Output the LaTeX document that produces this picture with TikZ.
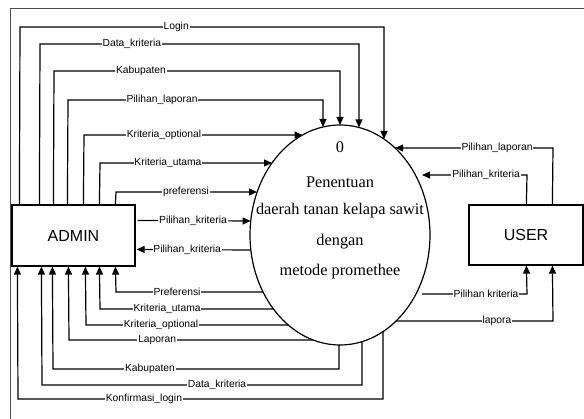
\documentclass[tikz,border=0pt]{standalone}
\usepackage{fontspec}
\setmainfont{Liberation Serif}
\newfontfamily\lblfont{Liberation Sans}
\usetikzlibrary{arrows.meta,calc,shapes.geometric}
\begin{document}
\begin{tikzpicture}[x=1pt,y=-1pt,
  flow/.style={line width=1.2pt,-{Triangle[length=8pt,width=7pt]}},
  plain/.style={line width=1.2pt},
  lbl/.style={fill=white,inner sep=0.8pt,font=\lblfont\fontsize{10.3}{12}\selectfont},
  entity/.style={draw,line width=1.2pt,inner sep=0pt,font=\lblfont\fontsize{16}{18}\selectfont},
  ptxt/.style={font=\fontsize{16.3}{18}\selectfont,inner sep=0pt}]
\useasboundingbox (0,0) rectangle (584,419);
% frame
\draw[line width=1pt,black!70] (10,419) -- (10,9) -- (584,9);
% nodes
\node[entity,minimum width=123pt,minimum height=61pt] (admin) at (73.5,235.5) {ADMIN};
\node[entity,minimum width=114pt,minimum height=60pt] (user) at (526,235) {USER};
\node[draw,ellipse,line width=1.2pt,minimum width=180pt,minimum height=220pt,inner sep=0pt,outer sep=0pt] (proc) at (340,235) {};
\node[ptxt] (t0) at (340,147) {0};
\node[ptxt] (t1) at (340,182) {Penentuan};
\node[ptxt] (t2) at (340,211) {daerah tanan kelapa sawit};
\node[ptxt] (t3) at (340,242) {dengan};
\node[ptxt] (t4) at (340,272) {metode promethee};
% ADMIN -> process (top)
\draw[flow] ($(admin.north west)+(8,0)$) -- (20,27) -- node[lbl,pos=.429]{Login} (384,27) -- ($(proc.center)+(44,-96)$);
\draw[flow] ($(admin.north west)+(28,0)$) -- (40,44) -- node[lbl,pos=.288]{Data\_kriteria} (359,44) -- ($(proc.center)+(19,-107.5)$);
\draw[flow] ($(admin.north west)+(42,0)$) -- (54,71) -- node[lbl,pos=.304]{Kabupaten} (340,71) -- (proc.north);
\draw[flow] ($(admin.north west)+(56,0)$) -- (68,100) -- node[lbl,pos=.369]{Pilihan\_laporan} (323,100) -- ($(proc.center)+(-17,-108)$);
\draw[flow] ($(admin.north west)+(72,0)$) -- (84,135) -- node[lbl,pos=.366]{Kriteria\_optional} ($(proc.center)+(-37.5,-100)$);
\draw[flow] ($(admin.north west)+(88,0)$) -- (100,163) -- node[lbl,pos=.395]{Kriteria\_utama} ($(proc.center)+(-68,-72)$);
\draw[flow] ($(admin.north west)+(104,0)$) -- (116,192) -- node[lbl,pos=.496]{preferensi} ($(proc.center)+(-83,-43)$);
\draw[flow] ($(admin.north east)+(2,16)$) -- node[lbl,pos=.49]{Pilihan\_kriteria} ($(proc.center)+(-89.3,-14)$);
\draw[flow] ($(proc.center)+(-89.2,15)$) -- node[lbl,pos=.557]{Pilihan\_kriteria} ($(admin.north east)+(1,45)$);
% process -> ADMIN (bottom)
\draw[flow] ($(proc.center)+(-77,57)$) -- node[lbl,pos=.585]{Preferensi} (116,292) -- ($(admin.south west)+(104,0)$);
\draw[flow] ($(proc.center)+(-66.6,74)$) -- node[lbl,pos=.613]{Kriteria\_utama} (100,309) -- ($(admin.south west)+(88,0)$);
\draw[flow] ($(proc.center)+(-51.8,90)$) -- node[lbl,pos=.629]{Kriteria\_optional} (86,325) -- ($(admin.south west)+(74,0)$);
\draw[flow] ($(proc.center)+(-26.8,105)$) -- node[lbl,pos=.639]{Laporan} (69,340) -- ($(admin.south west)+(57,0)$);
\draw[flow] ($(proc.center)+(-1,110)$) -- (339,369) -- node[lbl,pos=.661]{Kabupaten} (53,369) -- ($(admin.south west)+(41,0)$);
\draw[flow] ($(proc.center)+(22,106.7)$) -- (362,385) -- node[lbl,pos=.453]{Data\_kriteria} (42,385) -- ($(admin.south west)+(30,0)$);
\draw[flow] ($(proc.center)+(43,96.6)$) -- (383,399) -- node[lbl,pos=.655]{Konfirmasi\_login} (18,399) -- ($(admin.south west)+(6,0)$);
% USER flows
\draw[flow] ($(user.north west)+(84,0)$) -- (553,148) -- node[lbl,pos=.354]{Pilihan\_laporan} ($(proc.center)+(55,-87)$);
\draw[flow] ($(user.north west)+(58,0)$) -- (527,175) -- node[lbl,pos=.39]{Pilihan\_kriteria} ($(proc.center)+(82,-60)$);
\draw[flow] ($(proc.center)+(82,59)$) -- node[lbl,pos=.61]{Pilihan kriteria} (527,294) -- ($(user.south west)+(58,0)$);
\draw[flow] ($(proc.center)+(56,86)$) -- node[lbl,pos=.643]{lapora} (553,321) -- ($(user.south west)+(84,0)$);
\end{tikzpicture}
\end{document}
